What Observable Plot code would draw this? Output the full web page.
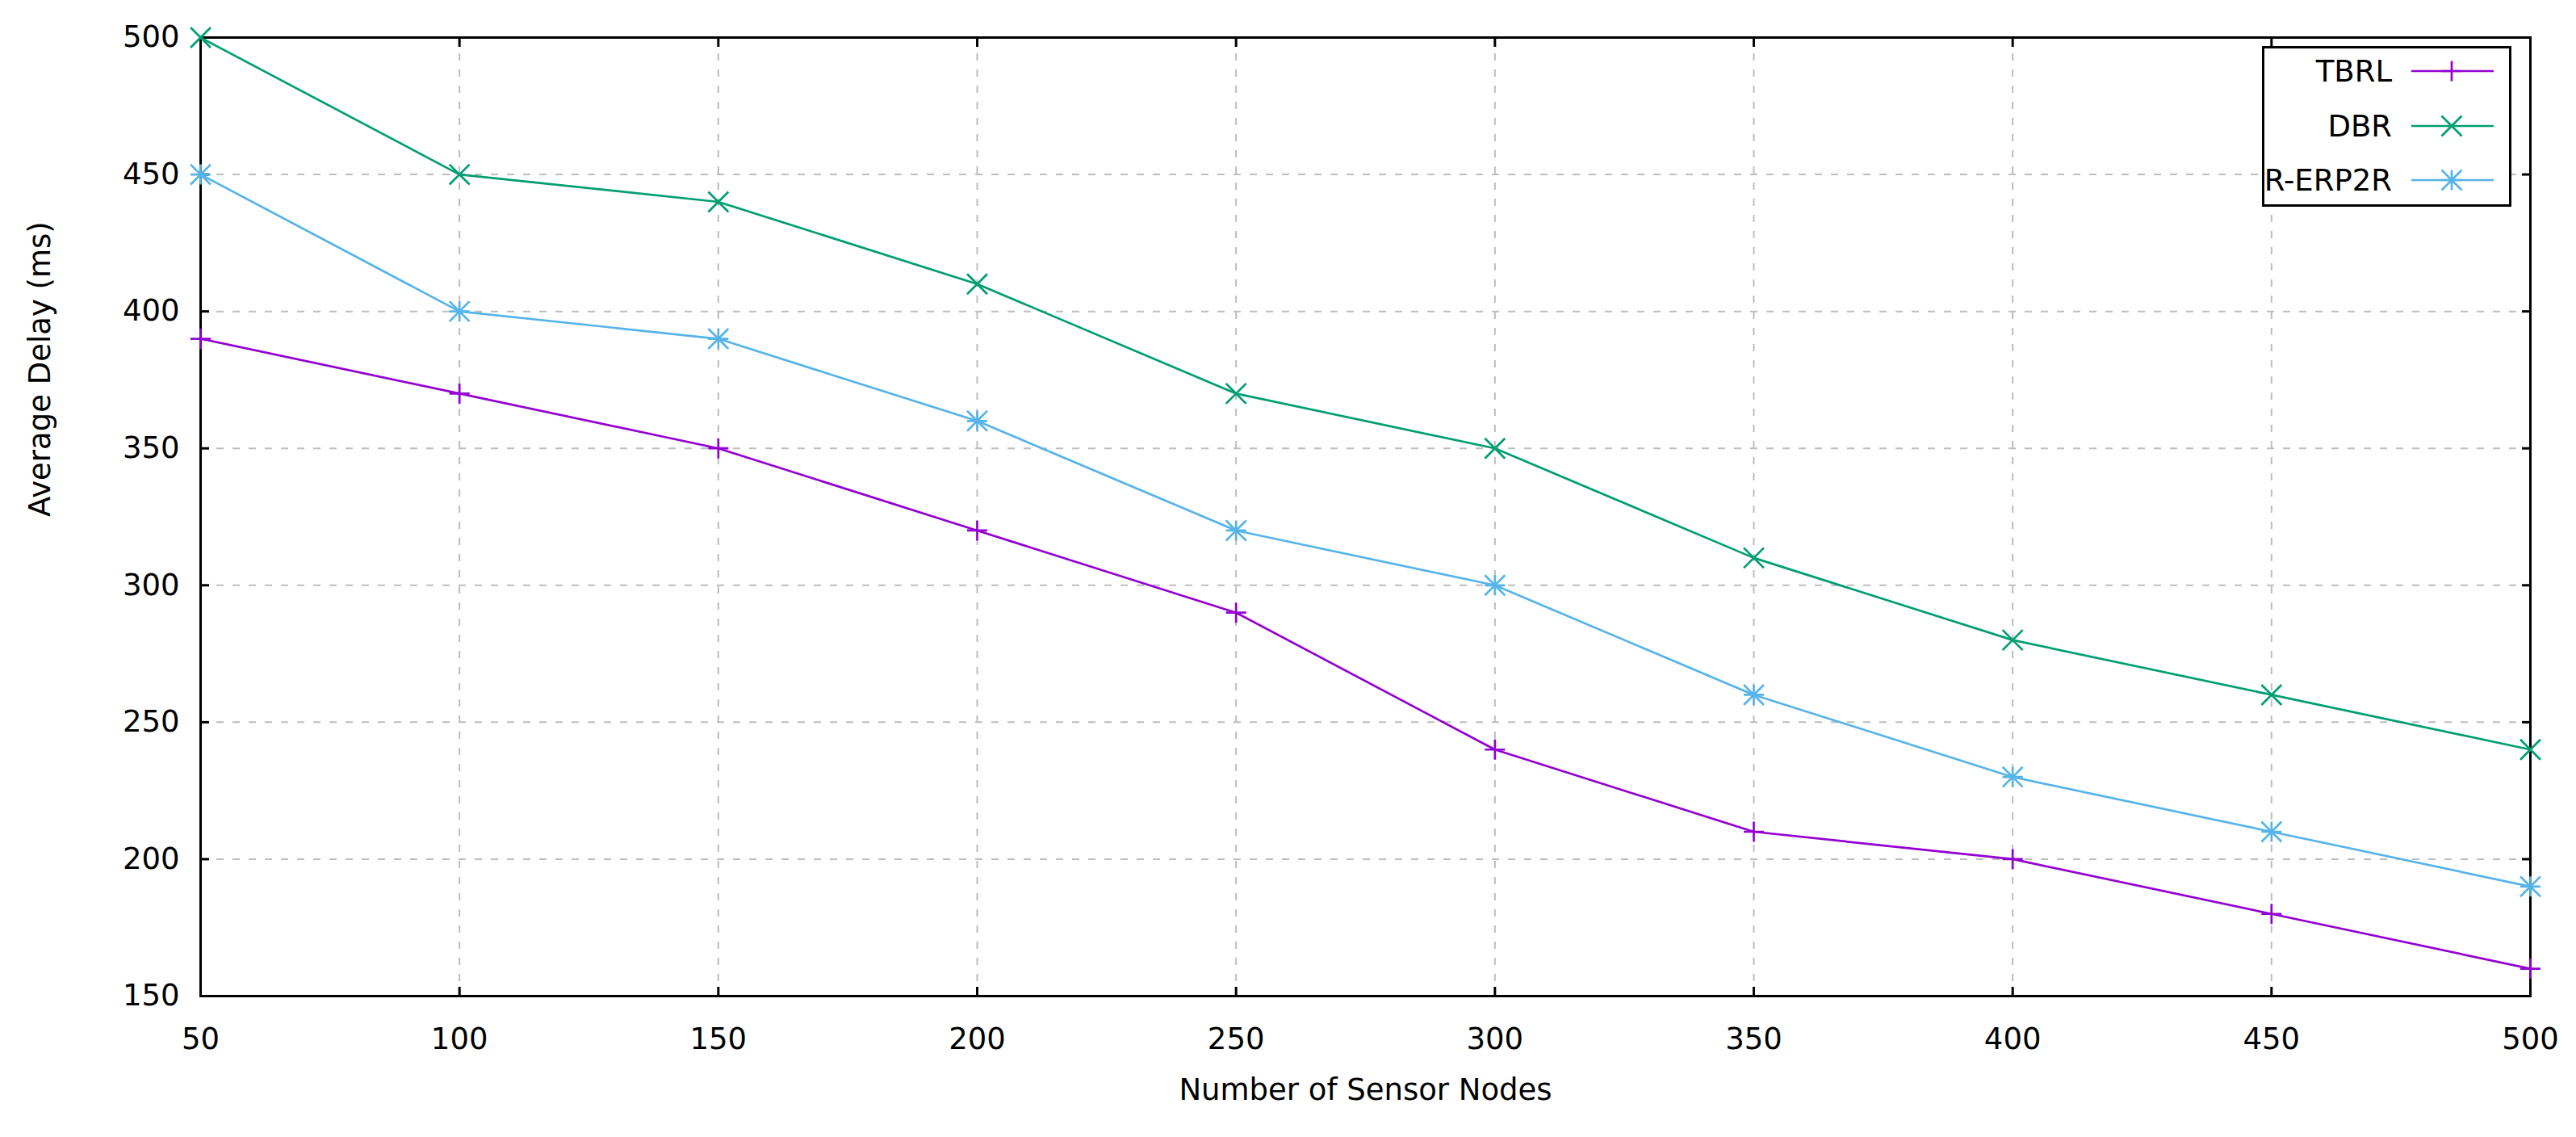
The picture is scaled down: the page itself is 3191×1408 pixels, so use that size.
<!DOCTYPE html>
<html>
<head>
<meta charset="utf-8">
<script src="https://cdn.jsdelivr.net/npm/d3@7"></script>
<script src="https://cdn.jsdelivr.net/npm/@observablehq/plot@0.6"></script>
<style>
  html, body { margin: 0; padding: 0; background: #fff; }
  #wrap { position: relative; width: 3191px; height: 1408px; }
  #legend { position: absolute; left: 2802px; top: 57px; }
</style>
</head>
<body>
<div id="wrap"></div>
<script>
// ---- data ----
const nodes = [50, 100, 150, 200, 250, 300, 350, 400, 450, 500];
const tbrl = [390, 370, 350, 320, 290, 240, 210, 200, 180, 160];
const dbr = [500, 450, 440, 410, 370, 350, 310, 280, 260, 240];
const rerp2r = [450, 400, 390, 360, 320, 300, 260, 230, 210, 190];
const seriesNames = ["TBRL", "DBR", "R-ERP2R"];
const seriesColors = ["#9400d3", "#009e73", "#56b4e9"];
const xTicks = [50, 100, 150, 200, 250, 300, 350, 400, 450, 500];
const yTicks = [150, 200, 250, 300, 350, 400, 450, 500];
const xLabel = "Number of Sensor Nodes";
const yLabel = "Average Delay (ms)";

const seriesValues = [tbrl, dbr, rerp2r];
const data = seriesNames.flatMap((s, k) => nodes.map((n, i) => ({x: n, y: seriesValues[k][i], s})));
const plusData = data.filter(d => d.s === "TBRL" || d.s === "R-ERP2R");
const timesData = data.filter(d => d.s === "DBR" || d.s === "R-ERP2R");

const font = "'DejaVu Sans', 'Noto Sans', sans-serif";
const gridStyle = {stroke: "#bdbdbd", strokeOpacity: 1, strokeWidth: 2, strokeDasharray: "9,11"};
const blank = () => "";

const chart = Plot.plot({
  width: 3191,
  height: 1408,
  marginTop: 46,
  marginRight: 57,
  marginBottom: 175,
  marginLeft: 248,
  style: {fontFamily: font, fontSize: "37px", background: "#fff", color: "#000"},
  x: {domain: [50, 500]},
  y: {domain: [150, 500]},
  color: {domain: seriesNames, range: seriesColors},
  marks: [
    Plot.gridX(xTicks, gridStyle),
    Plot.gridY(yTicks, gridStyle),
    Plot.axisX(xTicks, {anchor: "bottom", tickSize: 0, tickPadding: 39, label: null, fontSize: 37}),
    Plot.axisX(xTicks, {anchor: "bottom", tickSize: -11, strokeWidth: 3, tickFormat: blank, label: null}),
    Plot.axisX(xTicks, {anchor: "top", tickSize: -11, strokeWidth: 3, tickFormat: blank, label: null}),
    Plot.axisY(yTicks, {anchor: "left", tickSize: 0, tickPadding: 26, label: null, fontSize: 37}),
    Plot.axisY(yTicks, {anchor: "left", tickSize: -11, strokeWidth: 3, tickFormat: blank, label: null}),
    Plot.axisY(yTicks, {anchor: "right", tickSize: -11, strokeWidth: 3, tickFormat: blank, label: null}),
    Plot.frame({stroke: "#000", strokeWidth: 3}),
    Plot.line(data, {x: "x", y: "y", z: "s", stroke: "s", strokeWidth: 2.7}),
    Plot.dot(plusData, {x: "x", y: "y", stroke: "s", fill: "none", symbol: "plus", r: 8.1, strokeWidth: 2.7}),
    Plot.dot(timesData, {x: "x", y: "y", stroke: "s", fill: "none", symbol: "times", r: 11.4, strokeWidth: 2.7}),
    Plot.text([xLabel], {text: d => d, frameAnchor: "bottom", dy: 128, fill: "#000", fontSize: 37}),
    Plot.text([yLabel], {text: d => d, frameAnchor: "left", dx: -198, rotate: -90, fill: "#000", fontSize: 37})
  ]
});

const wrap = document.getElementById("wrap");
wrap.appendChild(chart);

// ---- legend (inside the plot area, top-right) ----
const lw = 309, lh = 199;
const legend = d3.create("svg")
  .attr("id", "legend")
  .attr("width", lw)
  .attr("height", lh)
  .style("font-family", font)
  .style("font-size", "37px");
legend.append("rect")
  .attr("x", 1.5).attr("y", 1.5)
  .attr("width", lw - 3).attr("height", lh - 3)
  .attr("fill", "#fff").attr("stroke", "#000").attr("stroke-width", 3);
const rowY = [31, 99, 166];
const textRight = 161, lineX1 = 185, lineX2 = 287, markX = 235, h = 12.5;
seriesNames.forEach((name, i) => {
  const y = rowY[i];
  const c = seriesColors[i];
  legend.append("text")
    .attr("x", textRight).attr("y", y)
    .attr("dy", "0.36em")
    .attr("text-anchor", "end")
    .attr("fill", "#000")
    .text(name);
  legend.append("line")
    .attr("x1", lineX1).attr("x2", lineX2)
    .attr("y1", y).attr("y2", y)
    .attr("stroke", c).attr("stroke-width", 2.7);
  let p = "";
  if (i === 0 || i === 2) p += `M${markX - h},${y}H${markX + h}M${markX},${y - h}V${y + h}`;
  if (i === 1 || i === 2) p += `M${markX - h},${y - h}L${markX + h},${y + h}M${markX - h},${y + h}L${markX + h},${y - h}`;
  legend.append("path").attr("d", p).attr("stroke", c).attr("stroke-width", 2.7).attr("fill", "none");
});
wrap.appendChild(legend.node());
</script>
</body>
</html>
